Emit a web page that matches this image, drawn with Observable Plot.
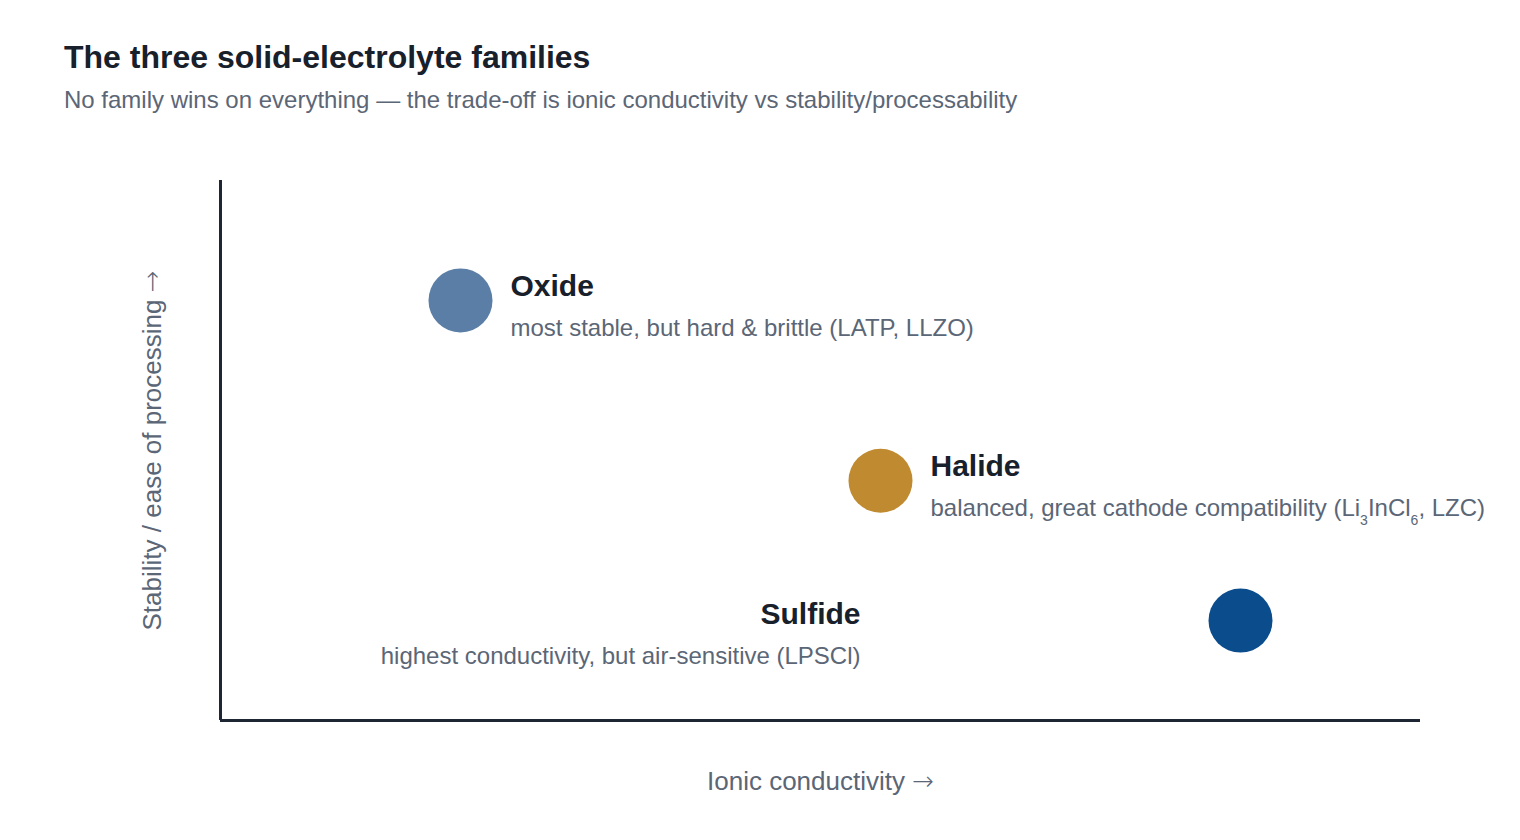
<!DOCTYPE html>
<html>
<head>
<meta charset="utf-8">
<script src="https://cdn.jsdelivr.net/npm/d3@7"></script>
<script src="https://cdn.jsdelivr.net/npm/@observablehq/plot@0.6"></script>
<style>
  html, body { margin: 0; padding: 0; background: #fff; }
  body { width: 1520px; height: 840px; overflow: hidden; font-family: "Liberation Sans", Arial, Helvetica, sans-serif; }
  #title { position: absolute; left: 64px; top: 37px; font-size: 32px; font-weight: 700; color: #17202b; line-height: 40px; }
  #subtitle { position: absolute; left: 64px; top: 85px; font-size: 24px; color: #5b6676; line-height: 30px; }
  #chart { position: absolute; left: 0; top: 140px; }
</style>
</head>
<body>
<div id="title">The three solid-electrolyte families</div>
<div id="subtitle">No family wins on everything — the trade-off is ionic conductivity vs stability/processability</div>
<div id="chart"></div>
<script>
const families = ["Oxide", "Halide", "Sulfide"];
const conductivity = [2.0, 5.5, 8.5];
const stability = [7.78, 4.44, 1.85];
const notes = [
  "most stable, but hard & brittle (LATP, LLZO)",
  "balanced, great cathode compatibility (Li₃InCl₆, LZC)",
  "highest conductivity, but air-sensitive (LPSCl)"
];
const colors = ["#5a7ea6", "#c08a30", "#0b4c8c"];
const xLabel = "Ionic conductivity →";
const yLabel = "Stability / ease of processing →";

const rows = families.map((f, i) => ({family: f, x: conductivity[i], y: stability[i], note: notes[i], color: colors[i]}));
const right = rows.filter(d => d.family !== "Sulfide");
const left = rows.filter(d => d.family === "Sulfide");

const ink = "#17202b", gray = "#5b6676";

const chart = Plot.plot({
  width: 1520,
  height: 700,
  marginTop: 40,
  marginBottom: 120,
  marginLeft: 220,
  marginRight: 100,
  style: {fontFamily: '"Liberation Sans", Arial, Helvetica, sans-serif', background: "#fff"},
  x: {domain: [0, 10], axis: null},
  y: {domain: [0, 10], axis: null},
  marks: [
    Plot.ruleX([0], {stroke: "#1e2633", strokeWidth: 3}),
    Plot.ruleY([0], {stroke: "#1e2633", strokeWidth: 3}),
    Plot.dot(rows, {x: "x", y: "y", r: 32, fill: "color", stroke: null}),
    Plot.text(right, {x: "x", y: "y", text: "family", dx: 50, dy: -14, textAnchor: "start", fontSize: 30, fontWeight: 700, fill: ink}),
    Plot.text(right, {x: "x", y: "y", text: "note", dx: 50, dy: 28, textAnchor: "start", fontSize: 24, fill: gray}),
    Plot.text(left, {x: "x", y: "y", text: "family", dx: -380, dy: -6, textAnchor: "end", fontSize: 30, fontWeight: 700, fill: ink}),
    Plot.text(left, {x: "x", y: "y", text: "note", dx: -380, dy: 36, textAnchor: "end", fontSize: 24, fill: gray}),
    Plot.text([xLabel], {frameAnchor: "bottom", dy: 69, fontSize: 26, fill: gray, textAnchor: "middle"}),
    Plot.text([yLabel], {frameAnchor: "left", dx: -68, rotate: -90, fontSize: 26, fill: gray, textAnchor: "middle"})
  ]
});
document.getElementById("chart").appendChild(chart);

const NS = "http://www.w3.org/2000/svg";
// render unicode subscripts as lowered, smaller digits; arrows in a font with a long arrow glyph
const subMap = {"₀":"0","₁":"1","₂":"2","₃":"3","₄":"4","₅":"5","₆":"6","₇":"7","₈":"8","₉":"9"};
chart.querySelectorAll("text").forEach(t => {
  const s = t.textContent;
  if (!/[₀-₉→]/.test(s)) return;
  const parts = s.split(/([₀-₉→])/).filter(p => p !== "");
  while (t.firstChild) t.removeChild(t.firstChild);
  let shifted = false;
  parts.forEach(p => {
    const ts = document.createElementNS(NS, "tspan");
    if (subMap[p]) {
      ts.textContent = subMap[p];
      ts.setAttribute("font-size", "14");
      ts.setAttribute("dy", shifted ? "0" : "9");
      shifted = true;
    } else if (p === "→") {
      ts.textContent = p;
      ts.setAttribute("font-family", "DejaVu Sans");
      ts.setAttribute("font-weight", "300");
    } else {
      ts.textContent = p;
      if (shifted) { ts.setAttribute("dy", "-9"); shifted = false; }
    }
    t.appendChild(ts);
  });
});
</script>
</body>
</html>
